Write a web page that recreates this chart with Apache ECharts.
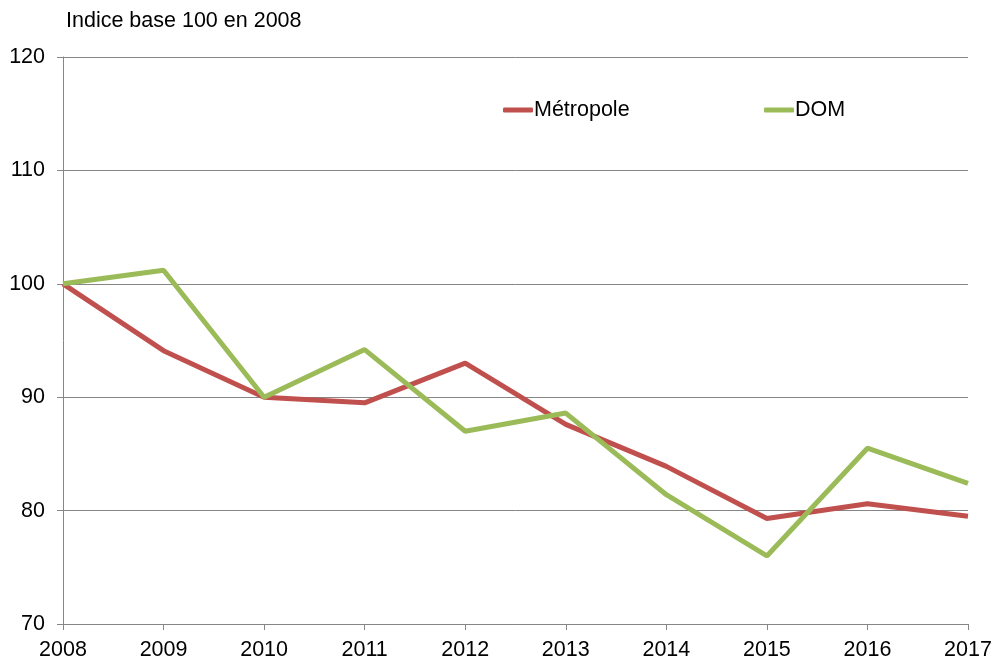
<!DOCTYPE html>
<html><head><meta charset="utf-8">
<script src="https://cdn.jsdelivr.net/npm/echarts@6/dist/echarts.min.js"></script>
<style>html,body{margin:0;padding:0;background:#fff}#c{width:995px;height:659px}</style>
</head><body><div id="c"></div>
<script>
var years = ['2008','2009','2010','2011','2012','2013','2014','2015','2016','2017'];
var metropole = [100, 94.1, 90.0, 89.5, 93.0, 87.6, 83.9, 79.3, 80.6, 79.5];
var dom = [100, 101.2, 90.0, 94.2, 87.0, 88.6, 81.4, 76.0, 85.5, 82.4];
var yTicks = [70, 80, 90, 100, 110, 120];

var chart = echarts.init(document.getElementById('c'), null, {renderer:'canvas'});
var font = '"Liberation Sans", Arial, sans-serif';
var fs = 21.5;
chart.setOption({
  animation: false,
  textStyle: {fontFamily: font},
  title: {text: 'Indice base 100 en 2008', left: 61, top: 5,
    textStyle: {fontSize: fs, fontWeight: 'normal', color: '#000', fontFamily: font}},
  legend: [
    {data: ['Métropole'], left: 498, top: 94, itemWidth: 30, itemHeight: 5, itemGap: 0,
      icon: 'roundRect', textStyle: {fontSize: fs, color: '#000', fontFamily: font, padding: [0,0,0,-4]}},
    {data: ['DOM'], left: 759, top: 94, itemWidth: 30, itemHeight: 5, itemGap: 0,
      icon: 'roundRect', textStyle: {fontSize: fs, color: '#000', fontFamily: font, padding: [0,0,0,-4]}}
  ],
  grid: {left: 63, right: 27, top: 57, bottom: 35, containLabel: false, outerBoundsMode: 'none'},
  xAxis: {type: 'category', data: years, boundaryGap: false,
    axisLine: {lineStyle: {color: '#868686', width: 1}},
    axisTick: {show: true, length: 6, inside: false, lineStyle: {color: '#868686'}},
    axisLabel: {fontSize: fs, color: '#000', margin: 15, fontFamily: font, showMaxLabel: true, showMinLabel: true, interval: 0},
    splitLine: {show: false}},
  yAxis: {type: 'value', min: 70, max: 120, interval: 10,
    axisLine: {show: true, lineStyle: {color: '#868686', width: 1}},
    axisTick: {show: true, length: 6, lineStyle: {color: '#868686'}},
    axisLabel: {fontSize: fs, color: '#000', margin: 18, fontFamily: font,
      formatter: function(v){ return yTicks.indexOf(v) >= 0 ? String(v) : ''; }},
    splitLine: {show: true, lineStyle: {color: '#868686', width: 1}}},
  series: [
    {name: 'Métropole', type: 'line', data: metropole, symbol: 'none',
      lineStyle: {color: '#C0504D', width: 5}, itemStyle: {color: '#C0504D'}},
    {name: 'DOM', type: 'line', data: dom, symbol: 'none',
      lineStyle: {color: '#9BBB59', width: 5}, itemStyle: {color: '#9BBB59'}}
  ]
});
</script></body></html>
